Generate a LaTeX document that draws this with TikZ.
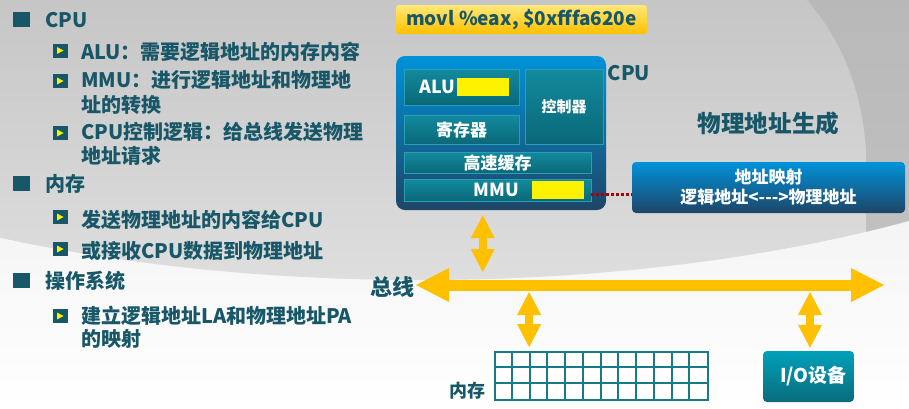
\documentclass[tikz,border=0pt]{standalone}
\usepackage{fontspec}
\setmainfont{Noto Sans CJK SC}
\usetikzlibrary{arrows.meta,calc}
\definecolor{txt}{RGB}{23,87,103}
\definecolor{gold}{RGB}{255,192,0}
\definecolor{tealT}{RGB}{18,138,158}
\definecolor{tealB}{RGB}{10,104,120}
\definecolor{tealE}{RGB}{40,160,178}
\definecolor{blueT}{RGB}{0,146,218}
\definecolor{blueM}{RGB}{18,96,148}
\definecolor{blueB}{RGB}{30,70,104}
\definecolor{ioT}{RGB}{0,160,186}
\definecolor{ioB}{RGB}{10,108,124}
\definecolor{gridc}{RGB}{22,122,136}
\definecolor{dotred}{RGB}{175,0,0}
\definecolor{bgA}{RGB}{232,232,232}
\definecolor{bgC}{RGB}{170,170,170}
\definecolor{bgD}{RGB}{222,222,222}
\definecolor{bgE}{RGB}{176,176,176}
\definecolor{ylT}{RGB}{255,232,120}
\definecolor{ylB}{RGB}{255,192,0}
\tikzset{
  lt/.style={font=\bfseries\fontsize{20}{24}\selectfont, text=txt, inner sep=0pt, anchor=base west},
  hsq/.style={fill=txt, minimum width=17pt, minimum height=15pt, inner sep=0pt},
  subb/.pic={\fill[txt] (-7.5,-7) rectangle (7.5,7); \fill[yellow] (-3,-3.5) -- (-3,3.5) -- (3.5,0) -- cycle;},
  tealbox/.style={top color=tealT, bottom color=tealB, draw=tealE, line width=0.6pt, inner sep=0pt, text=white, font=\bfseries\fontsize{17}{20}\selectfont},
  wt/.style={text=white, inner sep=0pt, font=\bfseries\fontsize{18}{20}\selectfont},
  ymark/.style={fill=yellow, minimum width=52pt, minimum height=18pt, inner sep=0pt},
  bluebox/.style={top color=blueT, middle color=blueM, bottom color=blueB, inner sep=0pt},
  lbl/.style={text=txt, inner sep=0pt},
  busarrow/.style={draw=gold, line width=11pt, {Triangle[length=33pt,width=34pt,line width=0pt]}-{Triangle[length=33pt,width=34pt,line width=0pt]}},
  vbus/.style={draw=gold, line width=8pt, {Triangle[length=23pt,width=24pt,line width=0pt]}-{Triangle[length=23pt,width=24pt,line width=0pt]}},
  gl/.style={draw=gridc, line width=1.8pt},
  dotline/.style={draw=dotred, line width=3pt, dash pattern=on 3pt off 2pt}
}
\begin{document}
\begin{tikzpicture}[x=1pt,y=-1pt]
\useasboundingbox (0,0) rectangle (909,408);
\begin{scope}
\clip (0,0) rectangle (909,408);
\shade[top color=bgA, bottom color=white] (0,0) rectangle (909,408);
\shade[top color=bgC, bottom color=bgD] (420,-20) ellipse [x radius=820pt, y radius=300pt];
\clip (420,-20) ellipse [x radius=820pt, y radius=300pt];
\fill[bgE, opacity=0.6] (807,0) .. controls (842,40) and (862,90) .. (866,150) -- (866,300) -- (909,300) -- (909,0) -- cycle;
\end{scope}

% left text
\node[hsq] (s1) at (21.5,19.5) {};
\node[hsq] (s2) at (21.5,183.5) {};
\node[hsq] (s3) at (21.5,280.5) {};
\pic at (60,50.5) {subb};
\pic at (60,81) {subb};
\pic at (60,133) {subb};
\pic at (60,217) {subb};
\pic at (60,249) {subb};
\pic at (60,316) {subb};
\node[lt] (h1) at (45,27) {CPU};
\node[lt] (t1) at (81,59.5) {ALU：需要逻辑地址的内存内容};
\node[lt] (t2) at (81,87.5) {MMU：进行逻辑地址和物理地};
\node[lt] (t2b) at (81,112.5) {址的转换};
\node[lt] (t3) at (81,139.5) {CPU控制逻辑：给总线发送物理};
\node[lt] (t3b) at (81,163.5) {地址请求};
\node[lt] (h2) at (45,191.5) {内存};
\node[lt] (t4) at (81,227.5) {发送物理地址的内容给CPU};
\node[lt] (t5) at (81,258.5) {或接收CPU数据到物理地址};
\node[lt] (h3) at (45,288.5) {操作系统};
\node[lt] (t6) at (81,323.5) {建立逻辑地址LA和物理地址PA};
\node[lt] (t6b) at (81,346.5) {的映射};

% instruction
\node[top color=ylT, bottom color=ylB, rounded corners=3pt, minimum width=251pt, minimum height=29pt, inner sep=0pt, text=txt, font=\bfseries\fontsize{19}{22}\selectfont] (movl) at (521.5,19.5) {movl \%eax, \$0xfffa620e};

% CPU
\node[bluebox, rounded corners=9pt, minimum width=210pt, minimum height=154pt] (cpu) at (501,133) {};
\node[lbl, font=\bfseries\fontsize{20}{22}\selectfont] (cpul) at (629,73) {CPU};
\node[tealbox, minimum width=115pt, minimum height=36pt] (alu) at (461.5,87) {};
\node[wt] (alut) at (437.5,87) {ALU};
\node[ymark] (aluy) at (483,87) {};
\node[tealbox, minimum width=115pt, minimum height=29pt] (reg) at (461.5,129.5) {寄存器};
\node[tealbox, minimum width=78pt, minimum height=75pt, font=\bfseries\fontsize{15}{18}\selectfont] (ctl) at (564,106.5) {控制器};
\node[tealbox, minimum width=187pt, minimum height=21pt] (cache) at (497.5,162.5) {高速缓存};
\node[tealbox, minimum width=187pt, minimum height=22pt] (mmu) at (497.5,190) {};
\node[wt] (mmut) at (496.5,190) {MMU};
\node[ymark] (mmuy) at (558,190) {};

% address mapping
\node[lbl, font=\bfseries\fontsize{23.6}{26}\selectfont] (gen) at (768.5,124) {物理地址生成};
\node[bluebox, rounded corners=4pt, minimum width=273pt, minimum height=51pt, text=white, align=center, font=\bfseries\fontsize{17}{20}\selectfont] (map) at (768.5,187.5) {地址映射\\逻辑地址<-\kern0pt-\kern0pt->物理地址};
\draw[dotline] ($(mmu.east)+(0,4)$) -- ($(map.west |- mmu.east)+(0,4)$);

% bus
\coordinate (busL) at (416,285);
\coordinate (busR) at (884,285);
\draw[busarrow] (busL) -- (busR);
\node[lbl, font=\bfseries\fontsize{22}{24}\selectfont] (busl) at (392.5,287) {总线};

% memory
\node[fill=white, draw=gridc, line width=1.8pt, minimum width=213pt, minimum height=48pt, inner sep=0pt] (mem) at (601.5,376) {};
\foreach \i in {1,...,11} \draw[gl] ($(mem.north west)+(\i*17.75,0)$) -- ($(mem.south west)+(\i*17.75,0)$);
\foreach \j in {1,2} \draw[gl] ($(mem.north west)+(0,\j*16)$) -- ($(mem.north east)+(0,\j*16)$);
\node[lbl, font=\bfseries\fontsize{18}{20}\selectfont] (meml) at (467,391) {内存};

% IO
\node[top color=ioT, bottom color=ioB, rounded corners=4pt, minimum width=91pt, minimum height=51pt, inner sep=0pt, text=white, font=\bfseries\fontsize{19}{21}\selectfont] (io) at (808.5,376.5) {\hspace{10pt}I/O设备};

% vertical connectors
\draw[vbus] ($(cpu.south west)+(87,5)$) -- ($(cpu.south west |- busR)+(87,-13)$);
\draw[vbus] ($(mem.north west)+(35,-4)$) -- ($(mem.north west |- busR)+(35,7)$);
\draw[vbus] ($(io.north)+(1.5,-3)$) -- ($(io.north |- busR)+(1.5,7)$);
\end{tikzpicture}
\end{document}
